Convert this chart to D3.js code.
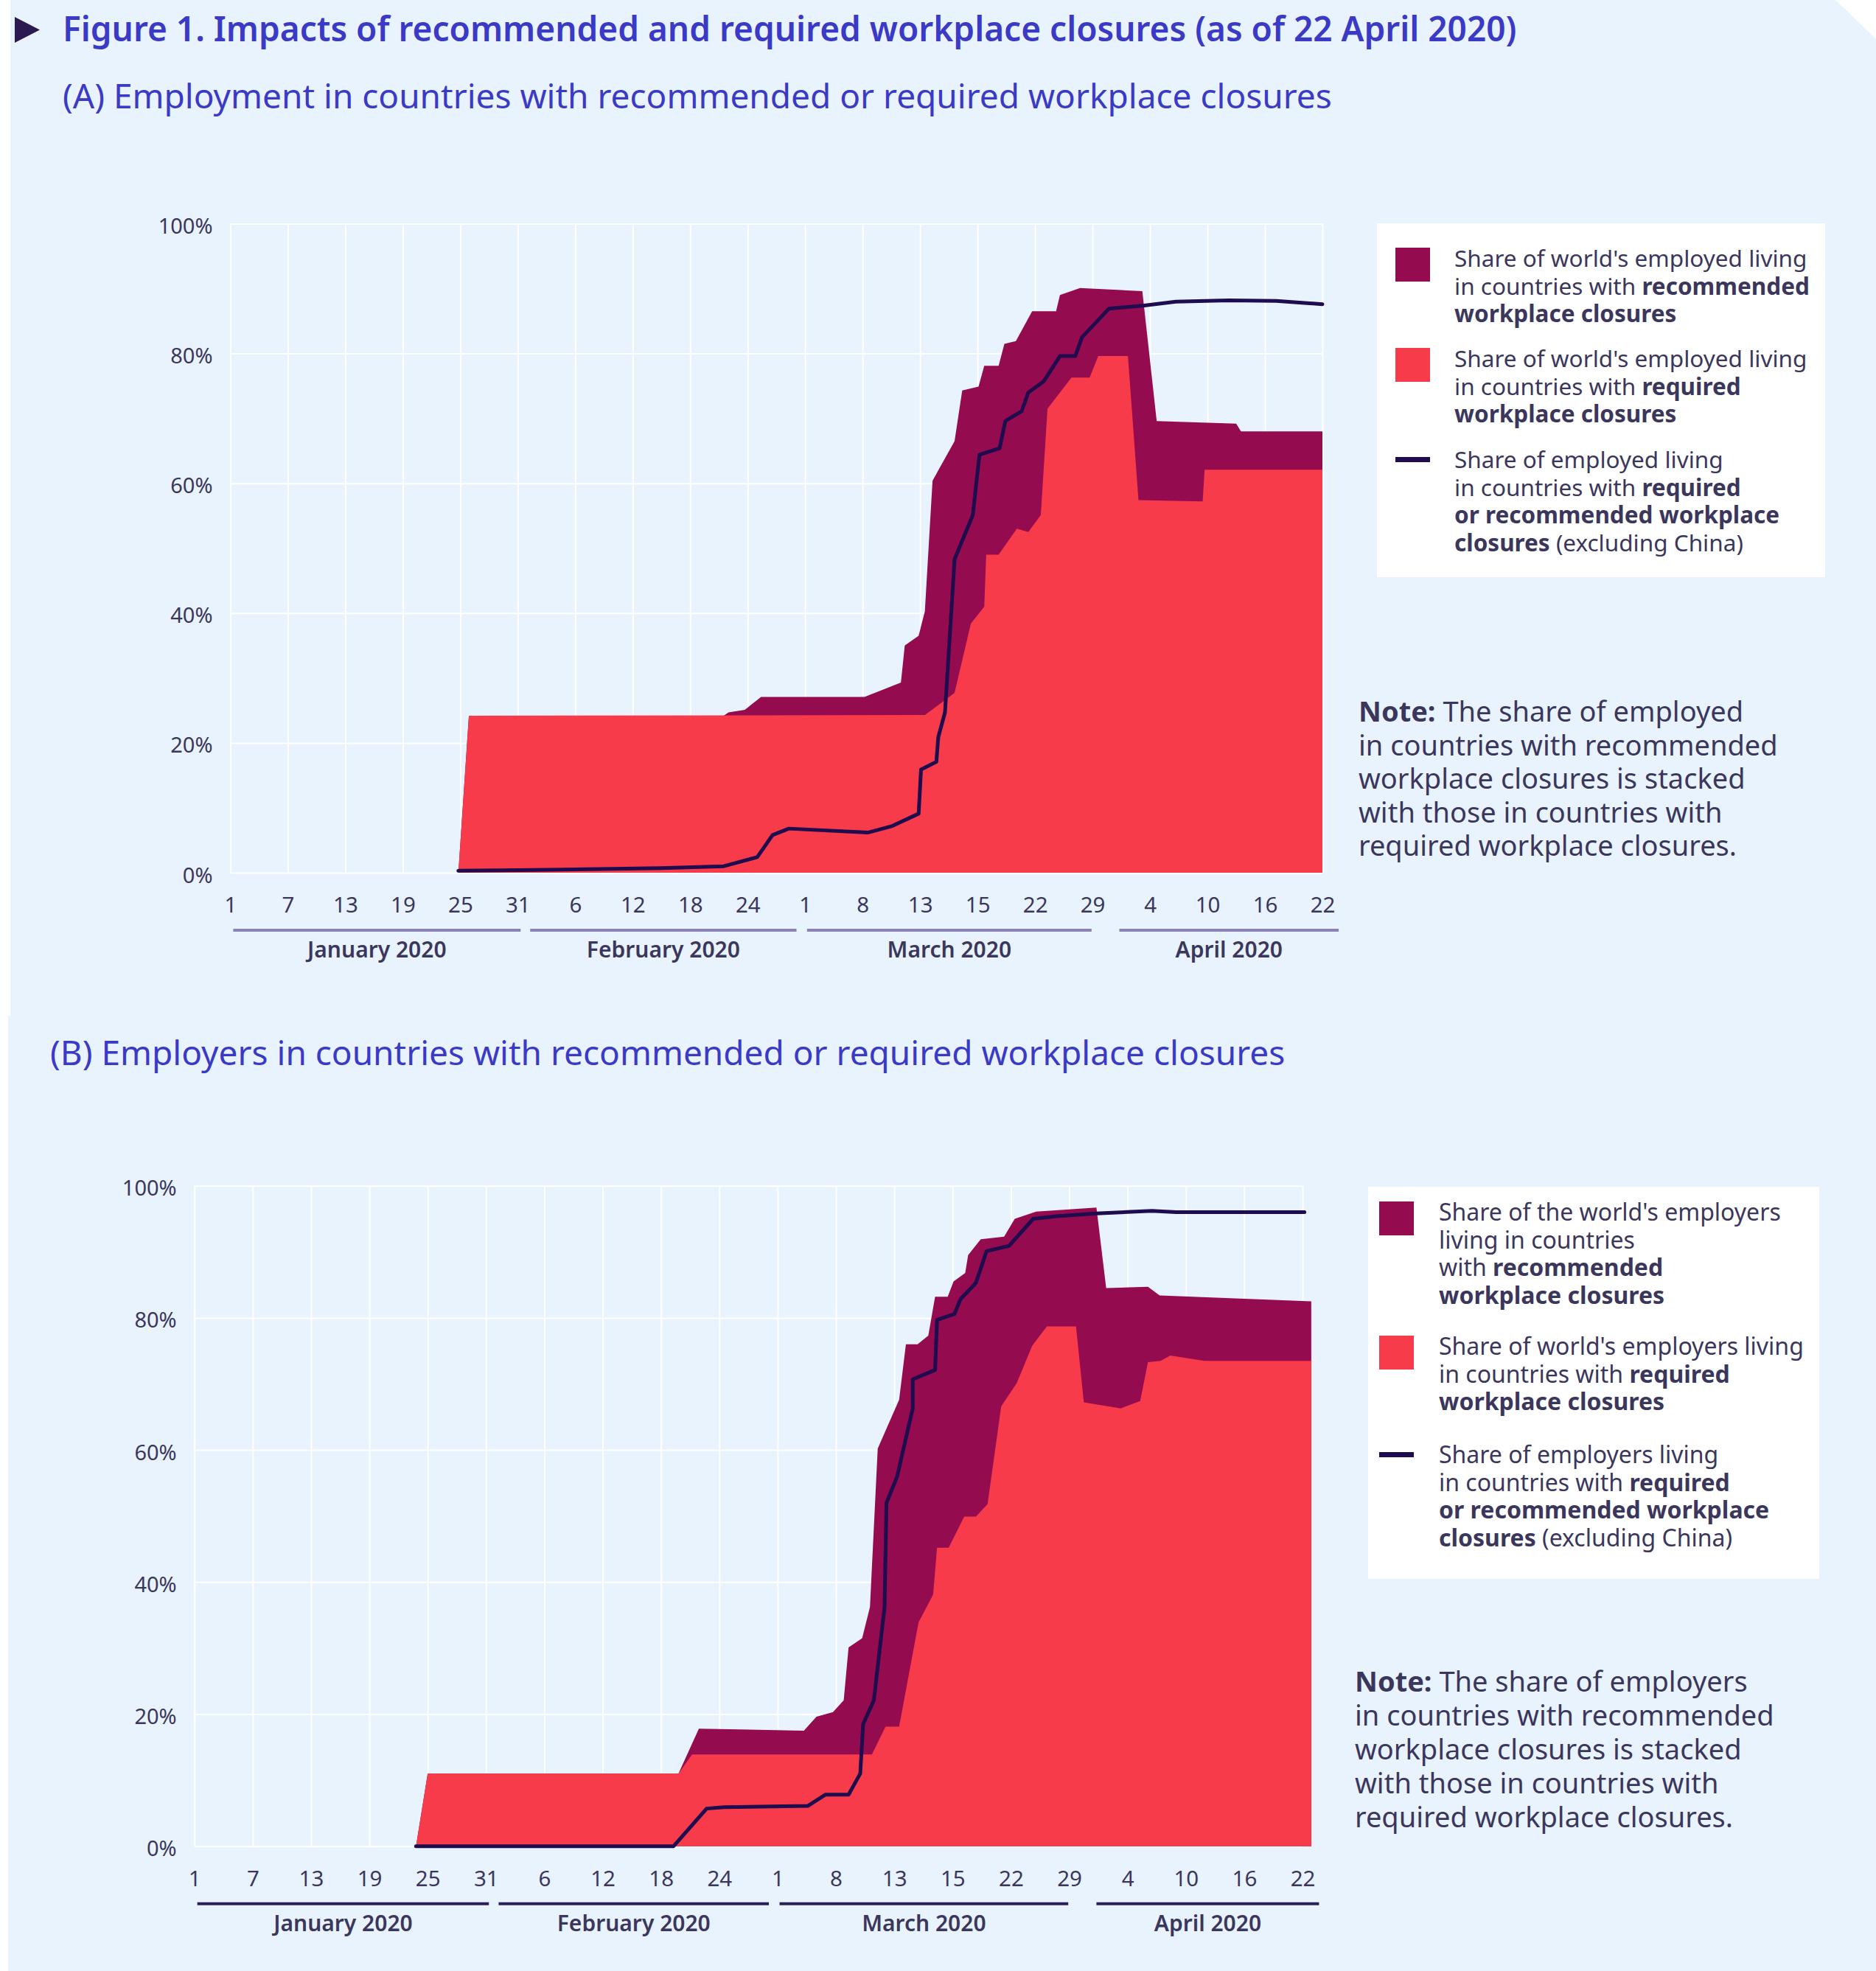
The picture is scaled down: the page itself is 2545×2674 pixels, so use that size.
<!DOCTYPE html>
<html>
<head>
<meta charset="utf-8">
<script src="https://d3js.org/d3.v7.min.js"></script>
<style>
  body { margin: 0; background: #ffffff; }
  svg text { font-family: "Noto Sans", "Open Sans", sans-serif; }
</style>
</head>
<body>
<div id="chart"></div>
<script>

// x is the position of the day in the source chart (labels every 6 positions)
var tickLabels = ["1","7","13","19","25","31","6","12","18","24","1","8","13","15","22","29","4","10","16","22"];
var monthNames = ["January 2020","February 2020","March 2020","April 2020"];
var monthSpans = [[0.3,30.3],[31.3,59.1],[60.2,89.9],[92.8,115.7]];
var yTicks = [0,20,40,60,80,100];

// (A) employment, % of world's employed
var requiredA = [[23.8,0],[24.9,24.2],[72.5,24.3],[75.6,27.7],[77.3,38.4],[78.7,41.0],[78.9,49.0],[80.2,49.0],[82.1,53.0],[83.3,52.5],[84.6,55.1],[85.3,71.5],[87.8,76.3],[89.7,76.3],[90.6,79.6],[93.7,79.6],[94.8,57.4],[101.5,57.2],[101.7,62.1],[114,62.1]];
// required + recommended (stacked top)
var stackedA = [[23.8,0],[24.9,24.2],[51.5,24.2],[52.0,24.7],[53.7,25.1],[55.4,27.1],[66.2,27.1],[70.0,29.3],[70.4,35.0],[71.85,36.5],[72.5,40.3],[73.3,60.4],[75.6,66.5],[76.4,74.3],[78.1,74.9],[78.7,78.1],[80.2,78.1],[80.8,81.5],[82.0,81.9],[83.7,86.5],[86.2,86.5],[86.6,89.0],[88.7,90.1],[95.2,89.6],[96.7,69.6],[105.0,69.2],[105.5,68.0],[114,68.0]];
// excluding China
var lineA = [[23.8,0.3],[30,0.4],[45,0.7],[51.5,1.0],[55.0,2.4],[56.6,5.8],[58.3,6.8],[66.6,6.2],[69.1,7.2],[71.85,9.1],[72.1,15.9],[73.7,17.1],[73.9,20.9],[74.6,24.7],[75.6,48.3],[77.5,55.1],[78.2,64.4],[80.3,65.4],[80.9,69.6],[82.6,71.1],[83.3,74.0],[84.9,75.7],[86.6,79.6],[88.2,79.6],[88.9,82.5],[91.7,86.9],[95.4,87.4],[98.7,88.0],[104.2,88.2],[109.2,88.1],[114,87.6]];

// (B) employers, % of world's employers
var requiredB = [[22.8,0],[24.0,11.0],[49.8,11.0],[51.2,13.9],[69.7,13.9],[71.1,18.1],[72.5,18.1],[74.5,33.9],[76.0,38.1],[76.4,45.2],[77.6,45.2],[79.2,49.9],[80.4,49.9],[81.6,51.8],[83.0,66.6],[84.6,70.1],[86.2,75.8],[87.7,78.7],[90.7,78.7],[91.5,67.2],[95.3,66.3],[97.3,67.4],[98.1,73.3],[99.4,73.5],[100.4,74.3],[103.9,73.5],[114.9,73.5]];
var stackedB = [[22.8,0],[24.0,11.0],[49.8,11.0],[51.9,17.8],[62.7,17.5],[64.0,19.6],[65.7,20.3],[66.8,22.1],[67.3,30.1],[68.7,31.5],[69.5,36.2],[70.3,60.2],[72.5,67.6],[73.2,76.0],[74.4,76.0],[75.5,77.3],[76.2,83.2],[77.5,83.2],[78.1,85.5],[79.3,86.8],[79.6,89.5],[80.9,91.9],[83.3,92.3],[84.4,95.0],[86.6,96.1],[92.8,96.7],[93.8,84.5],[98.1,84.7],[99.3,83.4],[114.9,82.5]];
var lineB = [[22.8,0],[49.3,0],[52.7,5.7],[54.5,5.9],[63.1,6.1],[64.9,7.8],[67.3,7.8],[68.5,11.0],[68.8,18.5],[69.9,22.1],[71.0,36.2],[71.2,52.0],[72.3,56.0],[73.9,66.3],[73.9,70.7],[76.2,72.1],[76.4,79.7],[78.2,80.6],[78.8,82.8],[80.4,85.3],[81.5,90.1],[83.8,90.9],[86.3,95.0],[88.7,95.4],[92.8,95.8],[98.5,96.2],[101.0,96.0],[114.2,96.0]];

var legendA = [
  ["Share of world's employed living", "in countries with **recommended**", "**workplace closures**"],
  ["Share of world's employed living", "in countries with **required**", "**workplace closures**"],
  ["Share of employed living", "in countries with **required**", "**or recommended workplace**", "**closures** (excluding China)"]
];
var legendB = [
  ["Share of the world's employers", "living in countries", "with **recommended**", "**workplace closures**"],
  ["Share of world's employers living", "in countries with **required**", "**workplace closures**"],
  ["Share of employers living", "in countries with **required**", "**or recommended workplace**", "**closures** (excluding China)"]
];
var noteA = ["**Note:** The share of employed", "in countries with recommended", "workplace closures is stacked", "with those in countries with", "required workplace closures."];
var noteB = ["**Note:** The share of employers", "in countries with recommended", "workplace closures is stacked", "with those in countries with", "required workplace closures."];

var W = 2545, H = 2674;
var colRec = "#950b4f", colReq = "#f73b4b", colLine = "#1e0c4e";
var textCol = "#3b375c", blue = "#3a3ac6";

var svg = d3.select("#chart").append("svg")
  .attr("width", W).attr("height", H);

// page background with the cut corner
svg.append("path")
  .attr("d", "M14,0 L2490,0 L2545,53 L2545,2674 L11,2674 L11,1378 L14,1378 Z")
  .attr("fill", "#e9f3fd");

// heading
svg.append("path").attr("d", "M20,23 L54,40.5 L20,58 Z").attr("fill", "#2b1a4f");
svg.append("text").attr("x", 85).attr("y", 56)
  .attr("font-size", 46).attr("font-weight", 600).attr("fill", blue)
  .text("Figure 1. Impacts of recommended and required workplace closures (as of 22 April 2020)");

function richText(sel, str) {
  str.split("**").forEach(function(part, i) {
    if (part === "") return;
    sel.append("tspan").attr("font-weight", i % 2 ? 700 : 400).text(part);
  });
}

var panels = [
  { title: "(A) Employment in countries with recommended or required workplace closures", tx: 85, ty: 147,
    plot: {left: 312.5, right: 1794, top: 303.5, bottom: 1184},
    req: requiredA, stack: stackedA, line: lineA, monthCol: "#8a82b2", legendSize: 31.5,
    legend: {x: 1868, y: 303, w: 608, h: 480, swX: 1893, txX: 1973, base: [362, 498, 635]}, legendText: legendA,
    note: {x: 1843, y: 979, lh: 45.5}, noteText: noteA },
  { title: "(B) Employers in countries with recommended or required workplace closures", tx: 68, ty: 1445,
    plot: {left: 263.7, right: 1767, top: 1608.7, bottom: 2504.7},
    req: requiredB, stack: stackedB, line: lineB, monthCol: "#2a1f5a", legendSize: 32,
    legend: {x: 1856, y: 1610, w: 612, h: 532, swX: 1871, txX: 1952, base: [1656, 1838, 1985]}, legendText: legendB,
    note: {x: 1838, y: 2295, lh: 46}, noteText: noteB }
];

panels.forEach(function(p) {
  var g = svg.append("g");

  g.append("text").attr("x", p.tx).attr("y", p.ty)
    .attr("font-size", 46).attr("fill", blue).text(p.title);

  var x = d3.scaleLinear().domain([0, 114]).range([p.plot.left, p.plot.right]);
  var y = d3.scaleLinear().domain([0, 100]).range([p.plot.bottom, p.plot.top]);
  var tickPos = d3.range(0, 115, 6);

  // grid
  g.append("g").attr("transform", "translate(0," + p.plot.bottom + ")")
    .call(d3.axisBottom(x).tickValues(tickPos).tickSize(-(p.plot.bottom - p.plot.top)).tickFormat(""))
    .call(function(a) { a.select(".domain").remove(); a.selectAll("line").attr("stroke", "#ffffff").attr("stroke-width", 2); });
  g.append("g").attr("transform", "translate(" + p.plot.left + ",0)")
    .call(d3.axisLeft(y).tickValues(yTicks).tickSize(-(p.plot.right - p.plot.left)).tickFormat(""))
    .call(function(a) { a.select(".domain").remove(); a.selectAll("line").attr("stroke", "#ffffff").attr("stroke-width", 2); });

  var area = d3.area().x(function(d) { return x(d[0]); }).y0(y(0)).y1(function(d) { return y(d[1]); });
  g.append("path").datum(p.stack).attr("d", area).attr("fill", colRec);
  g.append("path").datum(p.req).attr("d", area).attr("fill", colReq);

  g.append("path").datum(p.line)
    .attr("d", d3.line().x(function(d) { return x(d[0]); }).y(function(d) { return y(d[1]); }))
    .attr("fill", "none").attr("stroke", colLine).attr("stroke-width", 5)
    .attr("stroke-linejoin", "round").attr("stroke-linecap", "round");

  // axes labels
  g.append("g").attr("transform", "translate(0," + p.plot.bottom + ")")
    .call(d3.axisBottom(x).tickValues(tickPos).tickSize(0).tickPadding(33)
      .tickFormat(function(d, i) { return tickLabels[i]; }))
    .call(function(a) {
      a.select(".domain").remove();
      a.selectAll("text").attr("font-size", 29.5).attr("fill", textCol)
        .style("font-family", '"Noto Sans", sans-serif');
    });
  g.append("g").attr("transform", "translate(" + p.plot.left + ",0)")
    .call(d3.axisLeft(y).tickValues(yTicks).tickSize(0).tickPadding(24)
      .tickFormat(function(d) { return d + "%"; }))
    .call(function(a) {
      a.select(".domain").remove();
      a.selectAll("text").attr("font-size", 29).attr("fill", textCol).attr("dy", "0.45em")
        .style("font-family", '"Noto Sans", sans-serif');
    });

  // month groups
  monthSpans.forEach(function(s, i) {
    g.append("line")
      .attr("x1", x(s[0])).attr("x2", x(s[1]))
      .attr("y1", p.plot.bottom + 78).attr("y2", p.plot.bottom + 78)
      .attr("stroke", p.monthCol).attr("stroke-width", 4);
    g.append("text")
      .attr("x", x((s[0] + s[1]) / 2)).attr("y", p.plot.bottom + 115)
      .attr("text-anchor", "middle").attr("font-size", 30).attr("font-weight", 600)
      .attr("fill", textCol).text(monthNames[i]);
  });

  // legend
  var L = p.legend;
  g.append("rect").attr("x", L.x).attr("y", L.y).attr("width", L.w).attr("height", L.h).attr("fill", "#ffffff");
  p.legendText.forEach(function(lines, i) {
    var b = L.base[i];
    if (i < 2) {
      g.append("rect").attr("x", L.swX).attr("y", b - 26).attr("width", 47).attr("height", 46)
        .attr("fill", i === 0 ? colRec : colReq);
    } else {
      g.append("rect").attr("x", L.swX).attr("y", b - 15).attr("width", 47).attr("height", 7).attr("fill", colLine);
    }
    lines.forEach(function(t, j) {
      var tx = g.append("text").attr("x", L.txX).attr("y", b + j * 37.5)
        .attr("font-size", p.legendSize).attr("fill", textCol);
      richText(tx, t);
    });
  });

  // note
  p.noteText.forEach(function(t, j) {
    var tx = g.append("text").attr("x", p.note.x).attr("y", p.note.y + j * p.note.lh)
      .attr("font-size", 38).attr("fill", textCol);
    richText(tx, t);
  });
});

</script>
</body>
</html>
